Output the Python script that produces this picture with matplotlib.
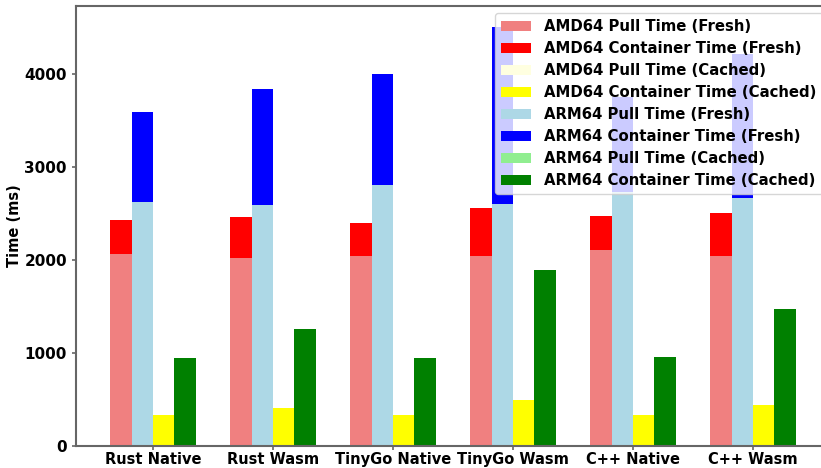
import numpy as np
import matplotlib
matplotlib.use("Agg")
import matplotlib.pyplot as plt

# ----- DATA (ms) -----
categories = ["Rust Native", "Rust Wasm", "TinyGo Native", "TinyGo Wasm", "C++ Native", "C++ Wasm"]

amd_pull_fresh = [2060, 2020, 2040, 2040, 2105, 2040]
amd_container_fresh = [365, 440, 355, 515, 365, 460]
amd_pull_cached = [0, 0, 0, 0, 0, 0]
amd_container_cached = [330, 410, 330, 495, 330, 440]

arm_pull_fresh = [2620, 2590, 2805, 2595, 2730, 2665]
arm_container_fresh = [970, 1245, 1195, 1910, 1020, 1550]
arm_pull_cached = [0, 0, 0, 0, 0, 0]
arm_container_cached = [945, 1255, 945, 1890, 955, 1470]
# ---------------------

FS = 10.5
AX_COLOR = "#666666"
WIDTH = 0.178


def stacked(ax, x, pull, cont, c_pull, c_cont, lbl_pull, lbl_cont):
    ax.bar(x, pull, WIDTH, color=c_pull, label=lbl_pull)
    ax.bar(x, cont, WIDTH, bottom=pull, color=c_cont, label=lbl_cont)


x = np.arange(len(categories))

fig = plt.figure(figsize=(8.21, 4.68), dpi=100)
ax = fig.add_axes([76 / 821, 22 / 468, (830 - 76) / 821, (446 - 5.7) / 468])

stacked(ax, x - 1.5 * WIDTH, amd_pull_fresh, amd_container_fresh, "lightcoral", "red",
        "AMD64 Pull Time (Fresh)", "AMD64 Container Time (Fresh)")
stacked(ax, x + 0.5 * WIDTH, amd_pull_cached, amd_container_cached, "lightyellow", "yellow",
        "AMD64 Pull Time (Cached)", "AMD64 Container Time (Cached)")
stacked(ax, x - 0.5 * WIDTH, arm_pull_fresh, arm_container_fresh, "lightblue", "blue",
        "ARM64 Pull Time (Fresh)", "ARM64 Container Time (Fresh)")
stacked(ax, x + 1.5 * WIDTH, arm_pull_cached, arm_container_cached, "lightgreen", "green",
        "ARM64 Pull Time (Cached)", "ARM64 Container Time (Cached)")

ax.set_xticks(x)
ax.set_xticklabels(categories, fontsize=FS, fontweight="bold")
ax.set_yticks([0, 1000, 2000, 3000, 4000])
ax.set_yticklabels(["0", "1000", "2000", "3000", "4000"], fontsize=FS + 0.5, fontweight="bold")
ax.set_ylabel("Time (ms)", fontsize=FS, fontweight="bold", labelpad=2)

for s in ax.spines.values():
    s.set_color(AX_COLOR)
    s.set_linewidth(1.5)
ax.tick_params(colors=AX_COLOR, labelcolor="black", width=1.2, length=3)
ax.tick_params(axis="x", pad=1.5)

ax.legend(loc="upper right", prop={"weight": "bold", "size": FS + 0.2},
          handlelength=2.0, handletextpad=0.9, borderpad=0.4, labelspacing=0.47)

fig.savefig("out.png", dpi=100)
